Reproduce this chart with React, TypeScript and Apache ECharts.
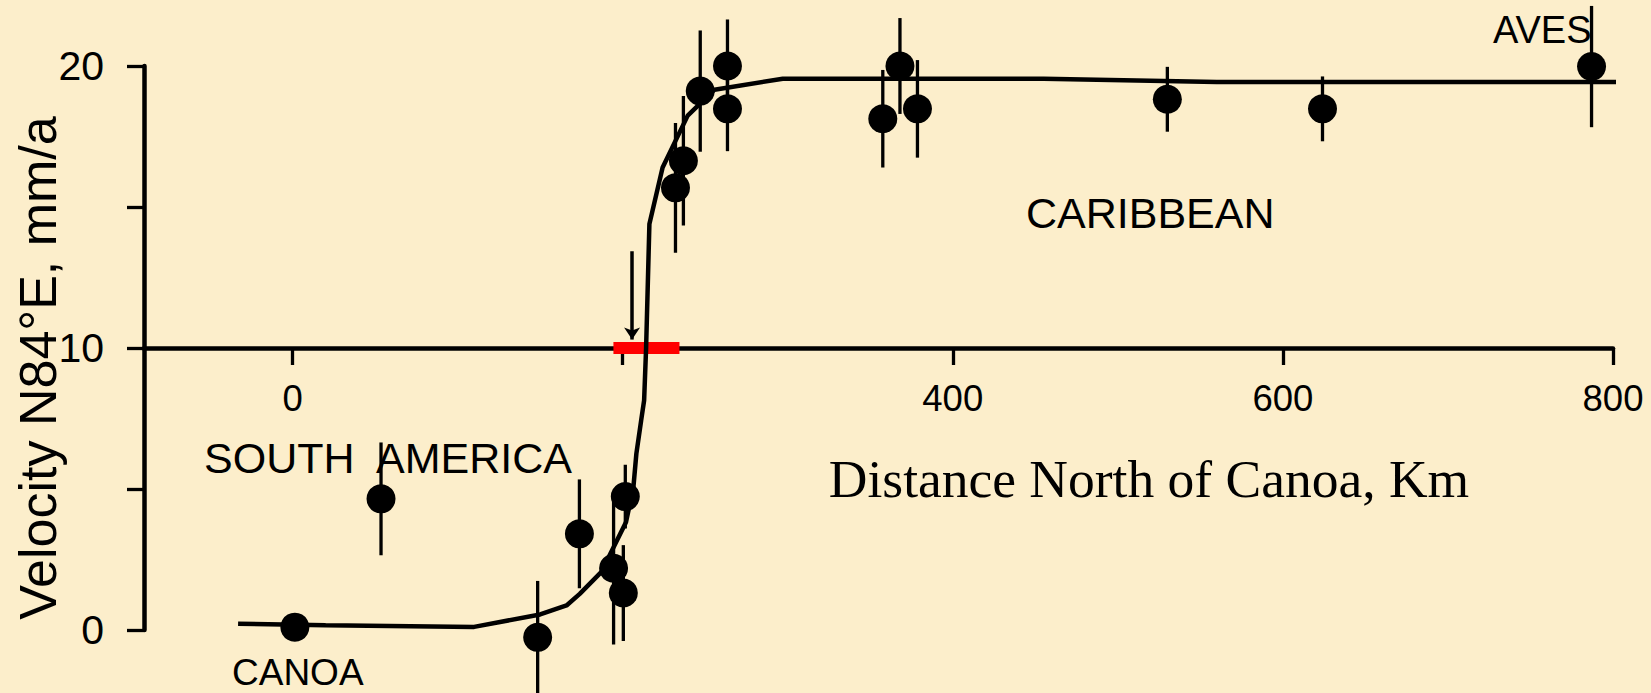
import React, { useEffect, useRef } from "react";
import * as echarts from "echarts";

// GPS sites: distance north of Canoa (km), velocity N84°E (mm/a), 1-sigma error
const siteKm = [1.4, 53.6, 148.5, 173.8, 194.5, 200.4, 201.6, 232, 236.8, 247, 263.5, 263.5, 357.6, 368, 378.6, 530, 624, 787];
const siteVel = [0.1, 4.65, -0.26, 3.41, 2.19, 1.31, 4.73, 15.68, 16.64, 19.11, 20.0, 18.48, 18.13, 20.0, 18.48, 18.82, 18.48, 19.98];
const siteErr = [0, 2.0, 2.0, 1.93, 2.7, 1.7, 1.13, 2.3, 2.3, 2.15, 1.65, 1.5, 1.73, 1.7, 1.73, 1.15, 1.15, 2.15];

// Model velocity profile across the plate boundary
const curveKm = [-33, 20, 110, 150, 166, 174, 187, 202, 206.5, 208.3, 211.2, 213, 214.2, 216.2, 224.2, 239.4, 255.6, 297, 455, 560, 808];
const curveVel = [0.22, 0.17, 0.11, 0.55, 0.87, 1.28, 2.05, 3.82, 5.06, 6.25, 7.43, 8.14, 10.0, 14.4, 16.4, 18.24, 19.16, 19.55, 19.55, 19.43, 19.43];

// Fault zone bar and arrow marking the boundary
const faultZoneKm = [194.4, 234.4];
const faultZoneVel = 10;
const arrowKm = 205.7;
const arrowVel = [13.43, 10.3];

// Axis ticks and labels
const xTicks = [0, 200, 400, 600, 800];
const xTickLabels = [0, 400, 600, 800];
const yTicks = [0, 5, 10, 15, 20];
const yTickLabels = [0, 10, 20];

const SANS = "'Liberation Sans', Arial, sans-serif";
const SERIF = "'Liberation Serif', 'Times New Roman', serif";

export default function App() {
  const ref = useRef<HTMLDivElement>(null);

  useEffect(() => {
    if (!ref.current) return;
    const chart = echarts.init(ref.current, null, { renderer: "svg" });

    const sites = siteKm.map((k, i) => [k, siteVel[i], siteErr[i]]);
    const curve = curveKm.map((k, i) => [k, curveVel[i]]);

    chart.setOption({
      animation: false,
      backgroundColor: "#FCEECB",
      grid: { left: 144, right: 38, top: 66, bottom: 63, containLabel: false },
      xAxis: {
        type: "value",
        min: -90,
        max: 800,
        position: "bottom",
        offset: -282,
        axisLine: { show: true, onZero: false, lineStyle: { color: "#000", width: 4.5 } },
        axisTick: { show: true, customValues: xTicks, length: 17, lineStyle: { color: "#000", width: 3.3 } },
        axisLabel: { customValues: xTickLabels, margin: 32, fontSize: 36.5, color: "#000", fontFamily: SANS },
        splitLine: { show: false },
      },
      yAxis: {
        type: "value",
        min: 0,
        max: 20,
        axisLine: { show: true, onZero: false, lineStyle: { color: "#000", width: 4.5 } },
        axisTick: { show: true, customValues: yTicks, length: 17, lineStyle: { color: "#000", width: 3.3 } },
        axisLabel: {
          customValues: yTickLabels,
          margin: 40,
          fontSize: 41,
          color: "#000",
          fontFamily: SANS,
          padding: [0, 0, 9, 0],
        },
        splitLine: { show: false },
      },
      series: [
        {
          type: "line",
          data: [
            [faultZoneKm[0], faultZoneVel],
            [faultZoneKm[1], faultZoneVel],
          ],
          showSymbol: false,
          symbol: "none",
          lineStyle: { color: "#FF0000", width: 12, cap: "butt" },
          z: 3,
          clip: false,
        },
        {
          type: "custom",
          clip: false,
          z: 4,
          data: sites,
          renderItem: (_params: any, api: any) => {
            const k = api.value(0);
            const v = api.value(1);
            const e = api.value(2);
            if (!e) return null;
            const p1 = api.coord([k, v + e]);
            const p2 = api.coord([k, v - e]);
            return {
              type: "line",
              shape: { x1: p1[0], y1: p1[1], x2: p2[0], y2: p2[1] },
              style: { stroke: "#000", lineWidth: 3.3 },
            };
          },
        },
        {
          type: "line",
          data: curve,
          showSymbol: false,
          symbol: "none",
          smooth: false,
          lineStyle: { color: "#000", width: 4.5 },
          z: 5,
          clip: false,
        },
        {
          type: "scatter",
          data: sites.map((s) => [s[0], s[1]]),
          symbol: "circle",
          symbolSize: 29,
          itemStyle: { color: "#000", opacity: 1 },
          z: 6,
          clip: false,
        },
        {
          type: "lines",
          coordinateSystem: "cartesian2d",
          symbol: ["none", "arrow"],
          symbolSize: 12,
          lineStyle: { color: "#000", width: 3.5, opacity: 1 },
          z: 7,
          data: [
            {
              coords: [
                [arrowKm, arrowVel[0]],
                [arrowKm, arrowVel[1]],
              ],
            },
          ],
        },
      ],
      graphic: [
        {
          type: "text",
          x: 38,
          y: 368,
          rotation: Math.PI / 2,
          style: {
            text: "Velocity N84°E, mm/a",
            fontSize: 52,
            fontFamily: SANS,
            fill: "#000",
            align: "center",
            verticalAlign: "middle",
          },
        },
        {
          type: "text",
          x: 1149,
          y: 479,
          style: {
            text: "Distance North of Canoa, Km",
            fontSize: 53.5,
            fontFamily: SERIF,
            fill: "#000",
            align: "center",
            verticalAlign: "middle",
          },
        },
        {
          type: "text",
          x: 204,
          y: 458,
          style: { text: "SOUTH  AMERICA", fontSize: 43, fontFamily: SANS, fill: "#000", align: "left", verticalAlign: "middle" },
        },
        {
          type: "text",
          x: 232,
          y: 672,
          style: { text: "CANOA", fontSize: 37, fontFamily: SANS, fill: "#000", align: "left", verticalAlign: "middle", lineHeight: 30 },
        },
        {
          type: "text",
          x: 1026,
          y: 213,
          style: { text: "CARIBBEAN", fontSize: 43, fontFamily: SANS, fill: "#000", align: "left", verticalAlign: "middle" },
        },
        {
          type: "text",
          x: 1493,
          y: 30,
          style: { text: "AVES", fontSize: 38, fontFamily: SANS, fill: "#000", align: "left", verticalAlign: "middle" },
        },
      ],
    });

    return () => chart.dispose();
  }, []);

  return (
    <div
      ref={ref}
      style={{ position: "absolute", left: 0, top: 0, width: 1651, height: 693 }}
    />
  );
}
